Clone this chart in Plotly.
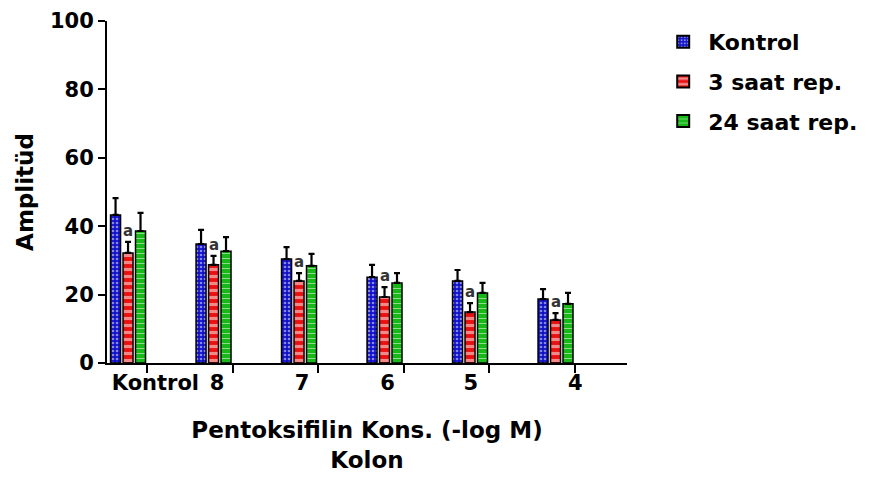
import plotly.graph_objects as go

categories = ["Kontrol", "8", "7", "6", "5", "4"]
series_names = ["Kontrol", "3 saat rep.", "24 saat rep."]
kontrol = [43.3, 34.8, 30.4, 25.1, 24.0, 18.7]
kontrol_err = [4.9, 4.1, 3.5, 3.6, 3.2, 2.9]
rep3 = [32.2, 28.7, 24.0, 19.3, 14.9, 12.6]
rep3_err = [3.2, 2.6, 2.3, 2.9, 2.6, 2.0]
rep24 = [38.6, 32.7, 28.4, 23.4, 20.5, 17.3]
rep24_err = [5.3, 4.1, 3.5, 2.9, 2.9, 3.2]
sig_marks = ["a", "a", "a", "a", "a", "a"]

# layout-only offsets for tick labels and tick marks (in category units)
label_shift = [0.32, 0.04, 0.035, 0.035, 0.01, 0.23]
tick_shift = 0.225

FONT = "DejaVu Sans"
x = list(range(len(categories)))
bw = 0.117
step = 0.146

styles = [
    dict(bg="#1010c8", fg="white", shape=".", size=4, sol=0.35),
    dict(bg="#e81010", fg="white", shape="-", size=7, sol=0.45),
    dict(bg="#18b818", fg="white", shape="-", size=5, sol=0.2),
]
data = [(kontrol, kontrol_err), (rep3, rep3_err), (rep24, rep24_err)]

fig = go.Figure()
for k, (name, (vals, errs), st) in enumerate(zip(series_names, data, styles)):
    fig.add_trace(go.Bar(
        x=x, y=vals, name=name, legendgroup="g%d" % k,
        width=bw, offset=(k - 1) * step - bw / 2,
        marker=dict(color=st["bg"],
                    line=dict(color="black", width=1.5),
                    pattern=dict(shape=st["shape"], fgcolor=st["fg"], bgcolor=st["bg"],
                                 size=st["size"], solidity=st["sol"], fillmode="overlay")),
        error_y=dict(type="data", symmetric=False, array=errs,
                     arrayminus=[0] * len(errs), color="black", thickness=2.2, width=3),
    ))

for i, m in enumerate(sig_marks):
    fig.add_annotation(x=x[i], y=rep3[i] + rep3_err[i], text=m,
                       showarrow=False, yanchor="bottom", xanchor="center",
                       font=dict(family=FONT, size=15, color="#333", weight="bold"), yshift=0)

fig.update_layout(
    width=871, height=477,
    margin=dict(l=107, r=244, t=21, b=114, autoexpand=False),
    paper_bgcolor="white", plot_bgcolor="white",
    barmode="overlay",
    showlegend=True,
    legend=dict(x=1.06, y=1.0, xanchor="left", yanchor="top",
                font=dict(family=FONT, size=22, color="black", weight="bold"),
                itemsizing="constant", tracegroupgap=8, itemwidth=40),
    font=dict(family=FONT, color="black"),
)
fig.update_yaxes(
    range=[0, 100], tickvals=[0, 20, 40, 60, 80, 100],
    automargin=False,
    showline=True, linecolor="black", linewidth=2,
    ticks="outside", ticklen=7, tickwidth=2, tickcolor="black",
    showgrid=False, zeroline=False,
    tickfont=dict(family=FONT, size=21, color="black", weight="bold"),
    title=dict(text="Amplitüd", font=dict(family=FONT, size=23, color="black", weight="bold"),
               standoff=10),
)
fig.update_xaxes(
    range=[-0.246, 5.836],
    automargin=False,
    tickvals=[x[i] + label_shift[i] for i in range(len(categories))],
    ticktext=categories,
    ticks="outside", ticklen=0,
    minor=dict(tickvals=[xi + tick_shift for xi in x], ticks="outside", ticklen=8,
               tickwidth=2, tickcolor="black", showgrid=False),
    showline=True, linecolor="black", linewidth=2,
    showgrid=False, zeroline=False,
    tickfont=dict(family=FONT, size=21, color="black", weight="bold"),
    title=dict(text="Pentoksifilin Kons. (-log M)<br>Kolon",
               font=dict(family=FONT, size=23, color="black", weight="bold"), standoff=28),
)
fig.write_html("out.html")
